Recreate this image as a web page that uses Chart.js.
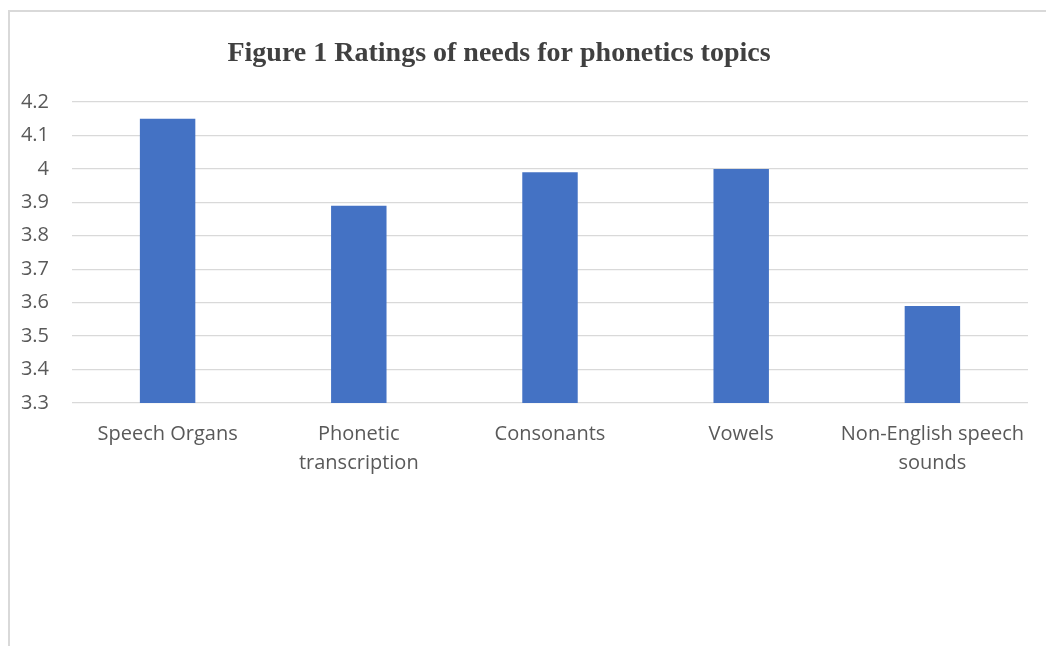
<!DOCTYPE html>
<html>
<head>
<meta charset="utf-8">
<script src="https://cdn.jsdelivr.net/npm/chart.js@4"></script>
<style>
  html, body { margin: 0; padding: 0; background: #fff; }
  #wrap { position: relative; width: 1046px; height: 646px; overflow: hidden; }
  #frame {
    position: absolute; left: 8px; top: 10px; width: 1100px; height: 700px;
    border-left: 2px solid #d9d9d9; border-top: 2px solid #d9d9d9;
    pointer-events: none;
  }
  canvas { position: absolute; left: 0; top: 0; }
</style>
</head>
<body>
<div id="wrap">
  <canvas id="chart" width="1046" height="646"></canvas>
  <div id="frame"></div>
</div>
<script>
/* chart data */
const chartTitle = 'Figure 1 Ratings of needs for phonetics topics';
const categories = [
    'Speech Organs',
    ['Phonetic', 'transcription'],
    'Consonants',
    'Vowels',
    ['Non-English speech', 'sounds']
];
const ratings = [4.15, 3.89, 3.99, 4.00, 3.59];
const yTicks = [3.3, 3.4, 3.5, 3.6, 3.7, 3.8, 3.9, 4, 4.1, 4.2];

const labelFont = { family: '"Open Sans", Lato, sans-serif', size: 20 };

/* Draws the title above the plot, offset left like the original */
const titlePlugin = {
    id: 'figTitle',
    afterDraw(chart) {
        const ctx = chart.ctx;
        ctx.save();
        ctx.font = 'bold 28px "Liberation Serif", "Times New Roman", serif';
        ctx.fillStyle = '#404040';
        ctx.textAlign = 'center';
        ctx.textBaseline = 'middle';
        ctx.fillText(chartTitle, 499, 54);
        ctx.restore();
    }
};

new Chart(document.getElementById('chart'), {
    type: 'bar',
    data: {
        labels: categories,
        datasets: [{
            label: 'Rating',
            data: ratings,
            backgroundColor: '#4472c4',
            borderWidth: 0,
            categoryPercentage: 1,
            barPercentage: 0.29
        }]
    },
    options: {
        responsive: false,
        animation: false,
        layout: { padding: { left: 0, right: 18, top: 102, bottom: 0 } },
        plugins: {
            legend: { display: false },
            tooltip: { enabled: false }
        },
        scales: {
            x: {
                grid: { display: false, drawTicks: false },
                border: { display: false },
                ticks: {
                    color: '#595959',
                    font: { ...labelFont, lineHeight: 1.45 },
                    padding: 17,
                    maxRotation: 0,
                    autoSkip: false
                },
                afterFit: scale => { scale.height = 243; }
            },
            y: {
                min: 3.3,
                max: 4.2,
                afterBuildTicks: scale => {
                    scale.ticks = yTicks.map(v => ({ value: v }));
                },
                grid: { color: '#d9d9d9', lineWidth: 1.3, drawTicks: false },
                border: { display: false },
                ticks: {
                    color: '#595959',
                    font: labelFont,
                    padding: 23,
                    callback: v => String(Math.round(v * 10) / 10)
                },
                afterFit: scale => { scale.width = 72; }
            }
        }
    },
    plugins: [titlePlugin]
});
</script>
</body>
</html>
